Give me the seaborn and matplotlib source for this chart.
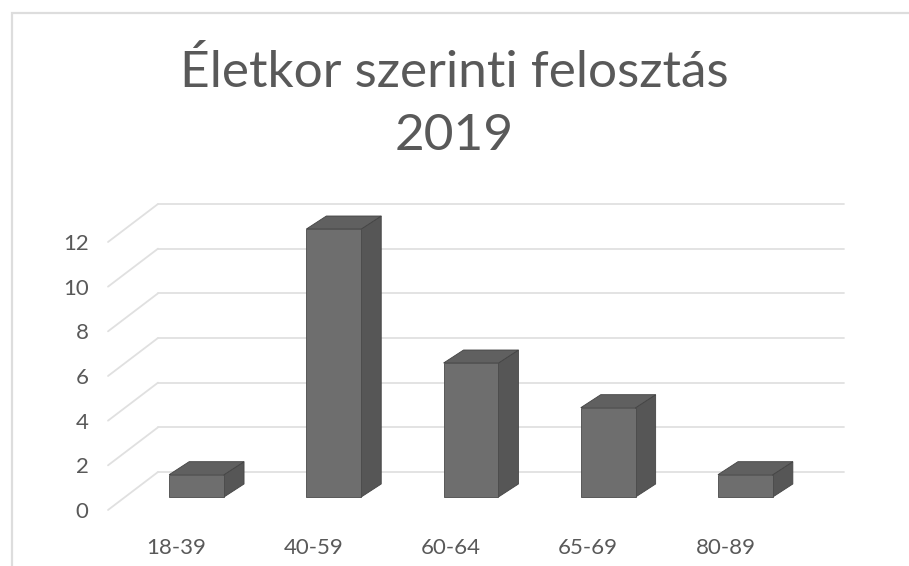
import numpy as np
import pandas as pd
import matplotlib
matplotlib.use('Agg')
import matplotlib.pyplot as plt
from matplotlib.patches import Polygon, Rectangle
from matplotlib.lines import Line2D
from matplotlib.transforms import IdentityTransform
import seaborn as sns

# Data
age_groups = ['18-39', '40-59', '60-64', '65-69', '80-89']
counts = [1, 12, 6, 4, 1]
y_ticks = [0, 2, 4, 6, 8, 10, 12]
title_text = 'Életkor szerinti felosztás\n2019'

# Style
sns.set_style('white')
plt.rcParams['font.family'] = ['Lato', 'DejaVu Sans']
text_grey = '#595959'
grid_grey = '#e0e0e0'
front_col = '#6e6e6e'
side_col = '#565656'
top_col = '#606060'

W, H = 909, 566
fig = plt.figure(figsize=(W / 100, H / 100), dpi=100)
ax = fig.add_axes([108 / W, (H - 510) / H, (794 - 108) / W, (510 - 242) / H])

df = pd.DataFrame({'age': age_groups, 'count': counts})
sns.barplot(data=df, x='age', y='count', color=front_col, saturation=1,
            width=0.4, ax=ax, zorder=3)

ax.set_xlim(-0.5, len(age_groups) - 0.5)
ax.set_ylim(0, 12)
ax.set_yticks(y_ticks)
ax.set_xlabel('')
ax.set_ylabel('')
sns.despine(ax=ax, left=True, bottom=True)
ax.tick_params(axis='both', length=0, labelcolor=text_grey, labelsize=16)
ax.tick_params(axis='y', pad=14)
ax.tick_params(axis='x', pad=20)

fig.canvas.draw()
to_px = ax.transData.transform

# Back wall grid and slanted side lines (pseudo 3D)
wall_dx, wall_dy = 50, 38
x_left = to_px((ax.get_xlim()[0], 0))[0]
x_right = to_px((ax.get_xlim()[1], 0))[0]
for v in y_ticks:
    yp = to_px((0, v))[1]
    fig.add_artist(Line2D([x_left + wall_dx, x_right + wall_dx],
                          [yp + wall_dy, yp + wall_dy],
                          transform=IdentityTransform(), color=grid_grey,
                          lw=1.3, zorder=1))
    fig.add_artist(Line2D([x_left, x_left + wall_dx], [yp, yp + wall_dy],
                          transform=IdentityTransform(), color=grid_grey,
                          lw=1.3, zorder=1))

# Bars: shift front face and add top / side faces
shift_x, shift_y = 20, 13
depth_x, depth_y = 20, 13
for bar in list(ax.patches):
    x0, y0 = to_px((bar.get_x(), 0))
    x1, y1 = to_px((bar.get_x() + bar.get_width(), bar.get_height()))
    x0 += shift_x; x1 += shift_x
    y0 += shift_y; y1 += shift_y
    bar.set_visible(False)
    front = Polygon([(x0, y0), (x1, y0), (x1, y1), (x0, y1)], closed=True,
                    transform=IdentityTransform(), facecolor=front_col,
                    edgecolor='#4a4a4a', lw=0.6, zorder=5)
    side = Polygon([(x1, y0), (x1 + depth_x, y0 + depth_y),
                    (x1 + depth_x, y1 + depth_y), (x1, y1)], closed=True,
                   transform=IdentityTransform(), facecolor=side_col,
                   edgecolor='#444444', lw=0.6, zorder=5)
    top = Polygon([(x0, y1), (x1, y1), (x1 + depth_x, y1 + depth_y),
                   (x0 + depth_x, y1 + depth_y)], closed=True,
                  transform=IdentityTransform(), facecolor=top_col,
                  edgecolor='#444444', lw=0.6, zorder=5)
    for p in (side, top, front):
        fig.add_artist(p)

# Title
fig.text(0.5, 1 - 150 / H, title_text, ha='center', va='baseline',
         fontsize=37, color=text_grey, linespacing=1.45)

# Chart frame (extends past the right and bottom edge)
fig.add_artist(Rectangle((12 / W, -0.1), 1.2, 1 - 13 / H + 0.1,
                         transform=fig.transFigure, fill=False,
                         edgecolor='#dddddd', lw=1.6, zorder=0))

fig.savefig('out.png', dpi=100)
